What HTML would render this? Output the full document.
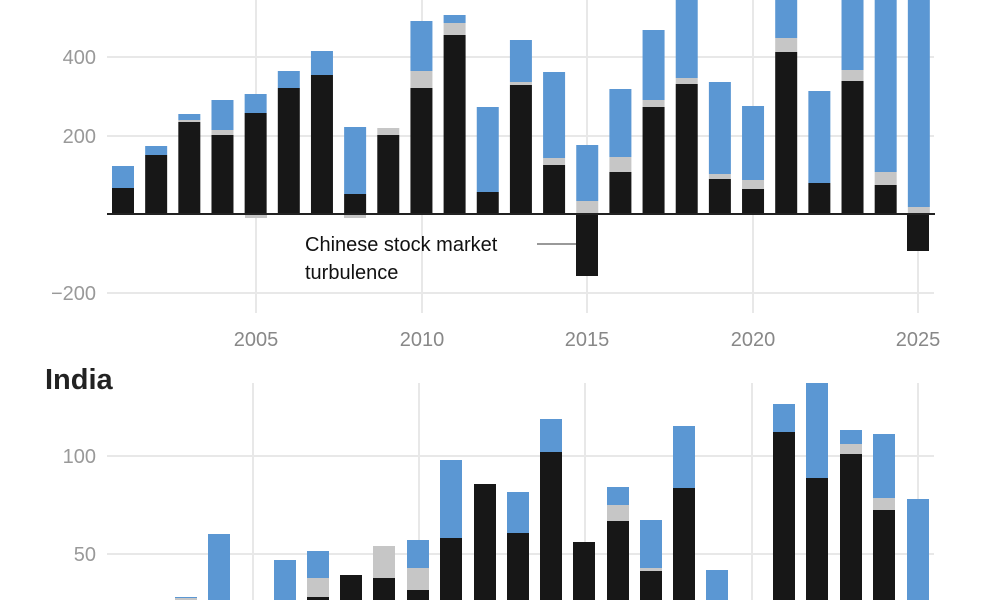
<!DOCTYPE html>
<html><head><meta charset="utf-8"><style>
html,body{margin:0;padding:0;background:#fff;width:1000px;height:600px;overflow:hidden}
svg{display:block;font-family:"Liberation Sans",sans-serif}
</style></head><body>
<svg id="s" width="1000" height="600" xmlns="http://www.w3.org/2000/svg">
<g stroke="#e8e8e8" stroke-width="2">
<line x1="107" y1="57" x2="934" y2="57"/><line x1="107" y1="136" x2="934" y2="136"/><line x1="107" y1="293" x2="934" y2="293"/>
<line x1="256" y1="0" x2="256" y2="313"/><line x1="422" y1="0" x2="422" y2="313"/><line x1="587" y1="0" x2="587" y2="313"/><line x1="753" y1="0" x2="753" y2="313"/><line x1="918" y1="0" x2="918" y2="313"/>
<line x1="107" y1="456" x2="934" y2="456"/><line x1="107" y1="554" x2="934" y2="554"/>
<line x1="253" y1="383" x2="253" y2="600"/><line x1="419" y1="383" x2="419" y2="600"/><line x1="585" y1="383" x2="585" y2="600"/><line x1="752" y1="383" x2="752" y2="600"/><line x1="918" y1="383" x2="918" y2="600"/>
</g>
<g id="bars"></g>
<line x1="107" y1="214" x2="935" y2="214" stroke="#222" stroke-width="2"/>
<g fill="#999" font-size="20" text-anchor="end">
<text x="96" y="64">400</text><text x="96" y="143">200</text><text x="96" y="300">−200</text>
<text x="96" y="463">100</text><text x="96" y="561">50</text>
</g>
<g fill="#888" font-size="20" text-anchor="middle">
<text x="256" y="346">2005</text><text x="422" y="346">2010</text><text x="587" y="346">2015</text><text x="753" y="346">2020</text><text x="918" y="346">2025</text>
</g>
<text x="305" y="251" font-size="20" fill="#111">Chinese stock market</text>
<text x="305" y="279" font-size="20" fill="#111">turbulence</text>
<line x1="537" y1="244" x2="576" y2="244" stroke="#333" stroke-width="1"/>
<text x="45" y="389" font-size="29" font-weight="bold" fill="#222">India</text>
</svg>
<script>
var g=document.getElementById('bars'),NS='http://www.w3.org/2000/svg';
function r(x,y1,y2,c){if(y2<=y1)return;var e=document.createElementNS(NS,'rect');e.setAttribute('x',x-11);e.setAttribute('y',y1);e.setAttribute('width',22);e.setAttribute('height',y2-y1);e.setAttribute('fill',c);g.appendChild(e);}
var K='#171717',G='#c6c6c6',B='#5b97d3';
var topData=[[188,188,166],[155,155,146],[122,120,114],[135,130,100],[113,113,94],[88,88,71],[75,75,51],[194,194,127],[135,128,128],[88,71,21],[35,23,15],[192,192,107],[85,82,40],[165,158,72],[214,201,145],[172,157,89],[107,100,30],[84,78,0],[179,174,82],[189,180,106],[52,38,0],[183,183,91],[81,70,0],[185,172,0],[214,207,0]];
topData.forEach(function(d,i){var x=123+i*33.16;r(x,d[0],214,K);r(x,d[1],d[0],G);r(x,d[2],d[1],B);});
r(256,214,218,G);r(355,214,218,G);
r(587,214,276,K);r(918,214,251,K);
var ind=[[186,610,598,597],[219,610,610,534],[285,610,610,560],[318,597,578,551],[351,575,575,575],[384,578,546,546],[418,590,568,540],[451,538,538,460],[485,484,484,484],[518,533,533,492],[551,452,452,419],[584,542,542,542],[618,521,505,487],[651,571,568,520],[684,488,488,426],[717,610,610,570],[784,432,432,404],[817,478,478,383],[851,454,444,430],[884,510,498,434],[918,610,610,499]];
ind.forEach(function(d){r(d[0],d[1],600,K);r(d[0],d[2],d[1],G);r(d[0],d[3],d[2],B);});
</script>
</body></html>
